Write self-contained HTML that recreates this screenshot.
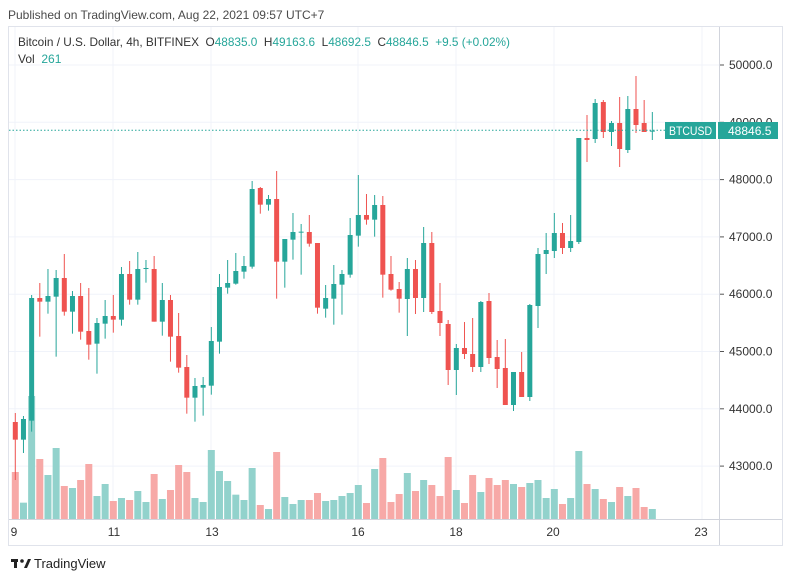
<!DOCTYPE html>
<html><head><meta charset="utf-8"><style>
body{margin:0;background:#fff;width:793px;height:582px;overflow:hidden;font-family:"Liberation Sans",sans-serif}
svg{position:absolute;left:0;top:0}
</style></head><body>
<svg id="s" width="793" height="582" xmlns="http://www.w3.org/2000/svg" font-family="Liberation Sans, sans-serif"></svg>
<script>
const A=[
[1,786,839,759,960,936],[0,777,839,768,879,1028],[0,414,782,405,815,708],[1,414,425,369,530,897],
[0,408,425,327,461,945],[0,354,410,330,590,864],[1,354,455,282,467,978],[0,408,455,393,521,984],
[1,408,515,369,539,960],[1,513,554,384,599,912],[0,489,551,474,641,1008],[0,468,491,420,536,972],
[1,468,479,405,518,1023],[0,342,479,321,497,1014],[1,342,419,303,434,1020],[0,327,419,276,434,993],
[0,324,327,300,368,1026],[1,327,485,288,485,942],[0,420,485,369,527,1017],[1,420,530,405,605,990],
[1,528,623,459,638,915],[1,621,713,585,761,936],[0,678,713,654,785,1014],[0,675,683,651,767,1026],
[0,543,677,501,704,870],[0,381,545,342,581,933],[0,369,383,300,401,963],[0,333,371,279,374,1004],
[0,318,335,288,356,1020],[0,87,320,63,326,924],[1,84,134,81,161,1035],[0,117,134,105,152,1047],
[1,117,305,33,416,876],[0,237,305,237,383,1011],[0,216,239,159,299,1032],[0,215,218,192,344,1020],
[1,216,251,165,260,1020],[1,249,443,249,461,999],[0,414,446,375,473,1023],[0,372,416,315,494,1020],
[0,342,374,330,464,1008],[0,225,344,174,353,999],[0,165,227,45,260,975],[1,165,179,102,194,1029],
[0,135,179,105,230,927],[1,135,344,108,413,894],[1,342,389,288,392,1026],[1,387,416,366,458,1002]];
const B=[
[0,627,717,594,828,1239],[1,627,714,600,762,1293],[0,549,714,501,756,1260],[1,549,756,516,762,1275],
[1,753,789,669,828,1308],[1,792,930,780,975,1191],[0,864,930,852,1005,1290],[1,864,882,786,897,1329],
[1,882,921,774,936,1245],[0,726,921,723,936,1296],[1,723,894,699,912,1254],[1,891,927,840,984,1275],
[1,924,1035,837,1035,1260],[0,936,1035,936,1053,1272],[1,936,1011,876,1011,1281],[0,735,1011,732,1023,1269],
[0,582,738,564,804,1260],[0,570,582,519,642,1314],[0,519,573,459,594,1287],[1,519,564,489,582,1332],
[0,543,564,465,576,1314],[0,234,546,234,552,1173],[1,234,240,165,306,1272],[0,129,237,117,249,1287],
[1,126,216,120,234,1317],[0,189,216,183,258,1326],[1,189,267,111,321,1281],[0,147,270,108,279,1308],
[1,147,195,48,219,1284],[1,189,216,120,216,1341],[0,212,215,156,240,1347]];
const C=[];A.forEach(a=>C.push(a.map((v,i)=>i?160+v/3:v)));B.forEach(a=>C.push(a.map((v,i)=>i?60+v/3:v)));
let h='';
h+='<text x="8" y="19" font-size="12" fill="#4a4a4a">Published on TradingView.com, Aug 22, 2021 09:57 UTC+7</text>';
h+='<rect x="8.5" y="26.5" width="774" height="519" fill="none" stroke="#e0e3eb"/>';
[15,113,211,358,456,554,702].forEach(x=>h+=`<line x1="${x}" y1="27" x2="${x}" y2="519" stroke="#f0f3fa"/>`);
const prices=[50000,49000,48000,47000,46000,45000,44000,43000];
prices.forEach((p,i)=>{const y=65+i*57.3;h+=`<line x1="9" y1="${y}" x2="719" y2="${y}" stroke="#f0f3fa"/><line x1="719" y1="${y}" x2="724" y2="${y}" stroke="#555"/><text x="729" y="${y+4}" font-size="12" fill="#333">${p}.0</text>`;});
h+='<line x1="719.5" y1="27" x2="719.5" y2="545" stroke="#d1d4dc"/>';
h+='<line x1="9" y1="519.5" x2="782" y2="519.5" stroke="#d1d4dc"/>';
C.forEach((c,i)=>{const x=15.3+8.167*i;const vc=c[0]?'#f7a9a7':'#92d2cc';
h+=`<rect x="${x-3.5}" y="${c[5]}" width="7" height="${519-c[5]}" fill="${vc}"/>`;});
C.forEach((c,i)=>{const x=15.3+8.167*i;const col=c[0]?'#ef5350':'#26a69a';
h+=`<line x1="${x}" y1="${c[3]}" x2="${x}" y2="${c[4]}" stroke="${col}" stroke-width="1"/>`;
h+=`<rect x="${x-2.5}" y="${c[1]}" width="5" height="${Math.max(1,c[2]-c[1])}" fill="${col}"/>`;});
h+='<line x1="9" y1="130.3" x2="665" y2="130.3" stroke="#26a69a" stroke-dasharray="1.5,2"/>';
h+='<rect x="665" y="122" width="51" height="17" fill="#26a69a"/><rect x="718" y="122" width="60" height="17" fill="#26a69a"/>';
h+='<text x="669" y="135" font-size="12" fill="#fff" textLength="43" lengthAdjust="spacingAndGlyphs">BTCUSD</text><text x="728" y="135" font-size="12" fill="#fff">48846.5</text>';
h+='<text x="18" y="46" font-size="12" fill="#333" textLength="492" lengthAdjust="spacingAndGlyphs">Bitcoin / U.S. Dollar, 4h, BITFINEX&#160;&#160;O<tspan fill="#26a69a">48835.0</tspan>&#160;&#160;H<tspan fill="#26a69a">49163.6</tspan>&#160;&#160;L<tspan fill="#26a69a">48692.5</tspan>&#160;&#160;C<tspan fill="#26a69a">48846.5</tspan>&#160;&#160;<tspan fill="#26a69a">+9.5 (+0.02%)</tspan></text>';
h+='<text x="18" y="63" font-size="12" fill="#333">Vol&#160;&#160;<tspan fill="#26a69a">261</tspan></text>';
[[14,'9'],[114,'11'],[212,'13'],[358,'16'],[456,'18'],[553,'20'],[701,'23']].forEach(d=>h+=`<text x="${d[0]}" y="536" font-size="12" fill="#333" text-anchor="middle">${d[1]}</text>`);
h+='<g fill="#222"><rect x="11" y="559" width="7" height="3"/><rect x="14" y="559" width="3" height="9"/><circle cx="22" cy="561" r="1.8"/><path d="M24 568 L28 559 L31 559 L27 568Z"/></g>';
h+='<text x="34" y="568" font-size="13" fill="#222">TradingView</text>';
document.getElementById('s').innerHTML=h;
</script>
</body></html>
